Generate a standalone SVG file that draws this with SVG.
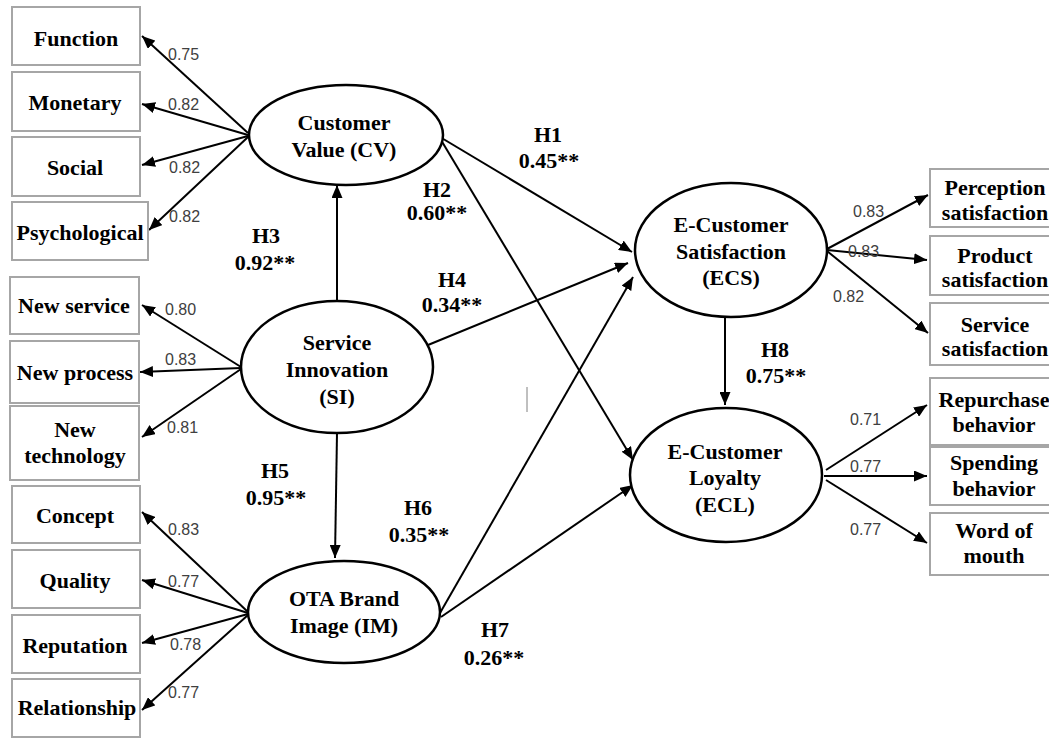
<svg xmlns="http://www.w3.org/2000/svg" width="1049" height="739" viewBox="0 0 1049 739">
<defs>
<style>
.box{fill:#fff;stroke:#a6a6a6;stroke-width:2}
.ell{fill:#fff;stroke:#000;stroke-width:2.5}
.t{font-family:"Liberation Serif","Times New Roman",serif;font-weight:bold;font-size:22px;fill:#000;text-anchor:middle}
.h{font-family:"Liberation Serif","Times New Roman",serif;font-weight:bold;font-size:22px;fill:#000;text-anchor:middle}
.l{font-family:"Liberation Sans",Arial,sans-serif;font-size:16px;fill:#404040}
.c line{stroke:#000;stroke-width:2;marker-end:url(#ah)}
</style>
<marker id="ah" markerUnits="userSpaceOnUse" markerWidth="13" markerHeight="11" refX="13" refY="5.5" orient="auto">
<path d="M0,0 L13,5.5 L0,11 z" fill="#000"/>
</marker>
</defs>
<rect width="1049" height="739" fill="#fff"/>

<g id="connectors" class="c">
<line x1="248" y1="133" x2="142" y2="36"/>
<line x1="248" y1="135" x2="142" y2="104"/>
<line x1="248" y1="136" x2="142" y2="165"/>
<line x1="248" y1="137" x2="149" y2="230"/>
<line x1="241" y1="367" x2="142" y2="305"/>
<line x1="241" y1="368" x2="140" y2="372"/>
<line x1="241" y1="369" x2="142" y2="437"/>
<line x1="248" y1="612" x2="142" y2="512"/>
<line x1="248" y1="613" x2="142" y2="580"/>
<line x1="248" y1="614" x2="142" y2="643"/>
<line x1="248" y1="615" x2="142" y2="710"/>
<line x1="827" y1="249" x2="928" y2="195"/>
<line x1="827" y1="250" x2="927" y2="260"/>
<line x1="827" y1="251" x2="928" y2="333"/>
<line x1="826" y1="470" x2="927" y2="405"/>
<line x1="824" y1="476" x2="927" y2="476"/>
<line x1="826" y1="480" x2="927" y2="543"/>
<line x1="440" y1="137" x2="632" y2="252"/>
<line x1="441" y1="140" x2="633" y2="460"/>
<line x1="337" y1="301" x2="337" y2="185"/>
<line x1="428" y1="345" x2="628" y2="263"/>
<line x1="337" y1="433" x2="335" y2="558"/>
<line x1="440" y1="613" x2="633" y2="277"/>
<line x1="441" y1="617" x2="633" y2="485"/>
<line x1="725" y1="318" x2="725" y2="405"/>
</g>

<g id="loadings">
<text class="l" x="168" y="60">0.75</text>
<text class="l" x="168" y="110">0.82</text>
<text class="l" x="169" y="173">0.82</text>
<text class="l" x="169" y="222">0.82</text>
<text class="l" x="165" y="315">0.80</text>
<text class="l" x="165" y="365">0.83</text>
<text class="l" x="167" y="433">0.81</text>
<text class="l" x="168" y="535">0.83</text>
<text class="l" x="168" y="587">0.77</text>
<text class="l" x="170" y="650">0.78</text>
<text class="l" x="168" y="698">0.77</text>
<text class="l" x="853" y="217">0.83</text>
<text class="l" x="848" y="257">0.83</text>
<text class="l" x="833" y="302">0.82</text>
<text class="l" x="850" y="425">0.71</text>
<text class="l" x="850" y="472">0.77</text>
<text class="l" x="850" y="535">0.77</text>
</g>

<g id="paths-labels">
<text class="h" x="548" y="142">H1</text><text class="h" x="549" y="168">0.45**</text>
<text class="h" x="437" y="197">H2</text><text class="h" x="437" y="220">0.60**</text>
<text class="h" x="266" y="243">H3</text><text class="h" x="265" y="270">0.92**</text>
<text class="h" x="452" y="287">H4</text><text class="h" x="452" y="312">0.34**</text>
<text class="h" x="275" y="478">H5</text><text class="h" x="276" y="505">0.95**</text>
<text class="h" x="418" y="515">H6</text><text class="h" x="419" y="542">0.35**</text>
<text class="h" x="495" y="637">H7</text><text class="h" x="494" y="665">0.26**</text>
<text class="h" x="775" y="357">H8</text><text class="h" x="776" y="383">0.75**</text>
</g>

<g id="CV"><ellipse class="ell" cx="346" cy="135" rx="97" ry="50"/><text class="t" x="344" y="130">Customer</text><text class="t" x="344" y="157">Value (CV)</text></g>
<g id="SI"><ellipse class="ell" cx="337" cy="367" rx="96" ry="66"/><text class="t" x="337" y="350">Service</text><text class="t" x="337" y="377">Innovation</text><text class="t" x="337" y="404">(SI)</text></g>
<g id="IM"><ellipse class="ell" cx="344" cy="612" rx="96" ry="51"/><text class="t" x="344" y="606">OTA Brand</text><text class="t" x="344" y="633">Image (IM)</text></g>
<g id="ECS"><ellipse class="ell" cx="731" cy="250" rx="96" ry="67"/><text class="t" x="731" y="232">E-Customer</text><text class="t" x="731" y="259">Satisfaction</text><text class="t" x="731" y="285">(ECS)</text></g>
<g id="ECL"><ellipse class="ell" cx="726" cy="475" rx="96" ry="67"/><text class="t" x="725" y="459">E-Customer</text><text class="t" x="725" y="485">Loyalty</text><text class="t" x="725" y="512">(ECL)</text></g>

<g id="Function"><rect class="box" x="12" y="7" width="128" height="58"/><text class="t" x="76" y="46">Function</text></g>
<g id="Monetary"><rect class="box" x="12" y="72" width="128" height="59"/><text class="t" x="75" y="110">Monetary</text></g>
<g id="Social"><rect class="box" x="12" y="137" width="128" height="59"/><text class="t" x="75" y="175">Social</text></g>
<g id="Psychological"><rect class="box" x="12" y="202" width="136" height="58"/><text class="t" x="80" y="240">Psychological</text></g>
<g id="NewService"><rect class="box" x="10" y="277" width="129" height="57"/><text class="t" x="74" y="313">New service</text></g>
<g id="NewProcess"><rect class="box" x="10" y="341" width="129" height="62"/><text class="t" x="75" y="380">New process</text></g>
<g id="NewTechnology"><rect class="box" x="10" y="406" width="129" height="74"/><text class="t" x="75" y="437">New</text><text class="t" x="75" y="463">technology</text></g>
<g id="Concept"><rect class="box" x="12" y="486" width="128" height="57"/><text class="t" x="75" y="523">Concept</text></g>
<g id="Quality"><rect class="box" x="12" y="550" width="128" height="58"/><text class="t" x="75" y="588">Quality</text></g>
<g id="Reputation"><rect class="box" x="12" y="615" width="128" height="58"/><text class="t" x="75" y="653">Reputation</text></g>
<g id="Relationship"><rect class="box" x="12" y="679" width="128" height="58"/><text class="t" x="77" y="715">Relationship</text></g>

<g id="Perception"><rect class="box" x="930" y="169" width="125" height="58"/><text class="t" x="995" y="195">Perception</text><text class="t" x="995" y="220">satisfaction</text></g>
<g id="Product"><rect class="box" x="930" y="236" width="125" height="59"/><text class="t" x="995" y="263">Product</text><text class="t" x="995" y="287">satisfaction</text></g>
<g id="ServiceSat"><rect class="box" x="930" y="303" width="125" height="62"/><text class="t" x="995" y="332">Service</text><text class="t" x="995" y="356">satisfaction</text></g>
<g id="Repurchase"><rect class="box" x="930" y="378" width="125" height="67"/><text class="t" x="994" y="407">Repurchase</text><text class="t" x="994" y="432">behavior</text></g>
<g id="Spending"><rect class="box" x="930" y="447" width="125" height="58"/><text class="t" x="994" y="470">Spending</text><text class="t" x="994" y="496">behavior</text></g>
<g id="WordOfMouth"><rect class="box" x="930" y="513" width="125" height="62"/><text class="t" x="994" y="538">Word of</text><text class="t" x="994" y="563">mouth</text></g>

<line x1="527" y1="387" x2="527" y2="412" stroke="#808080" stroke-width="1"/>
</svg>
